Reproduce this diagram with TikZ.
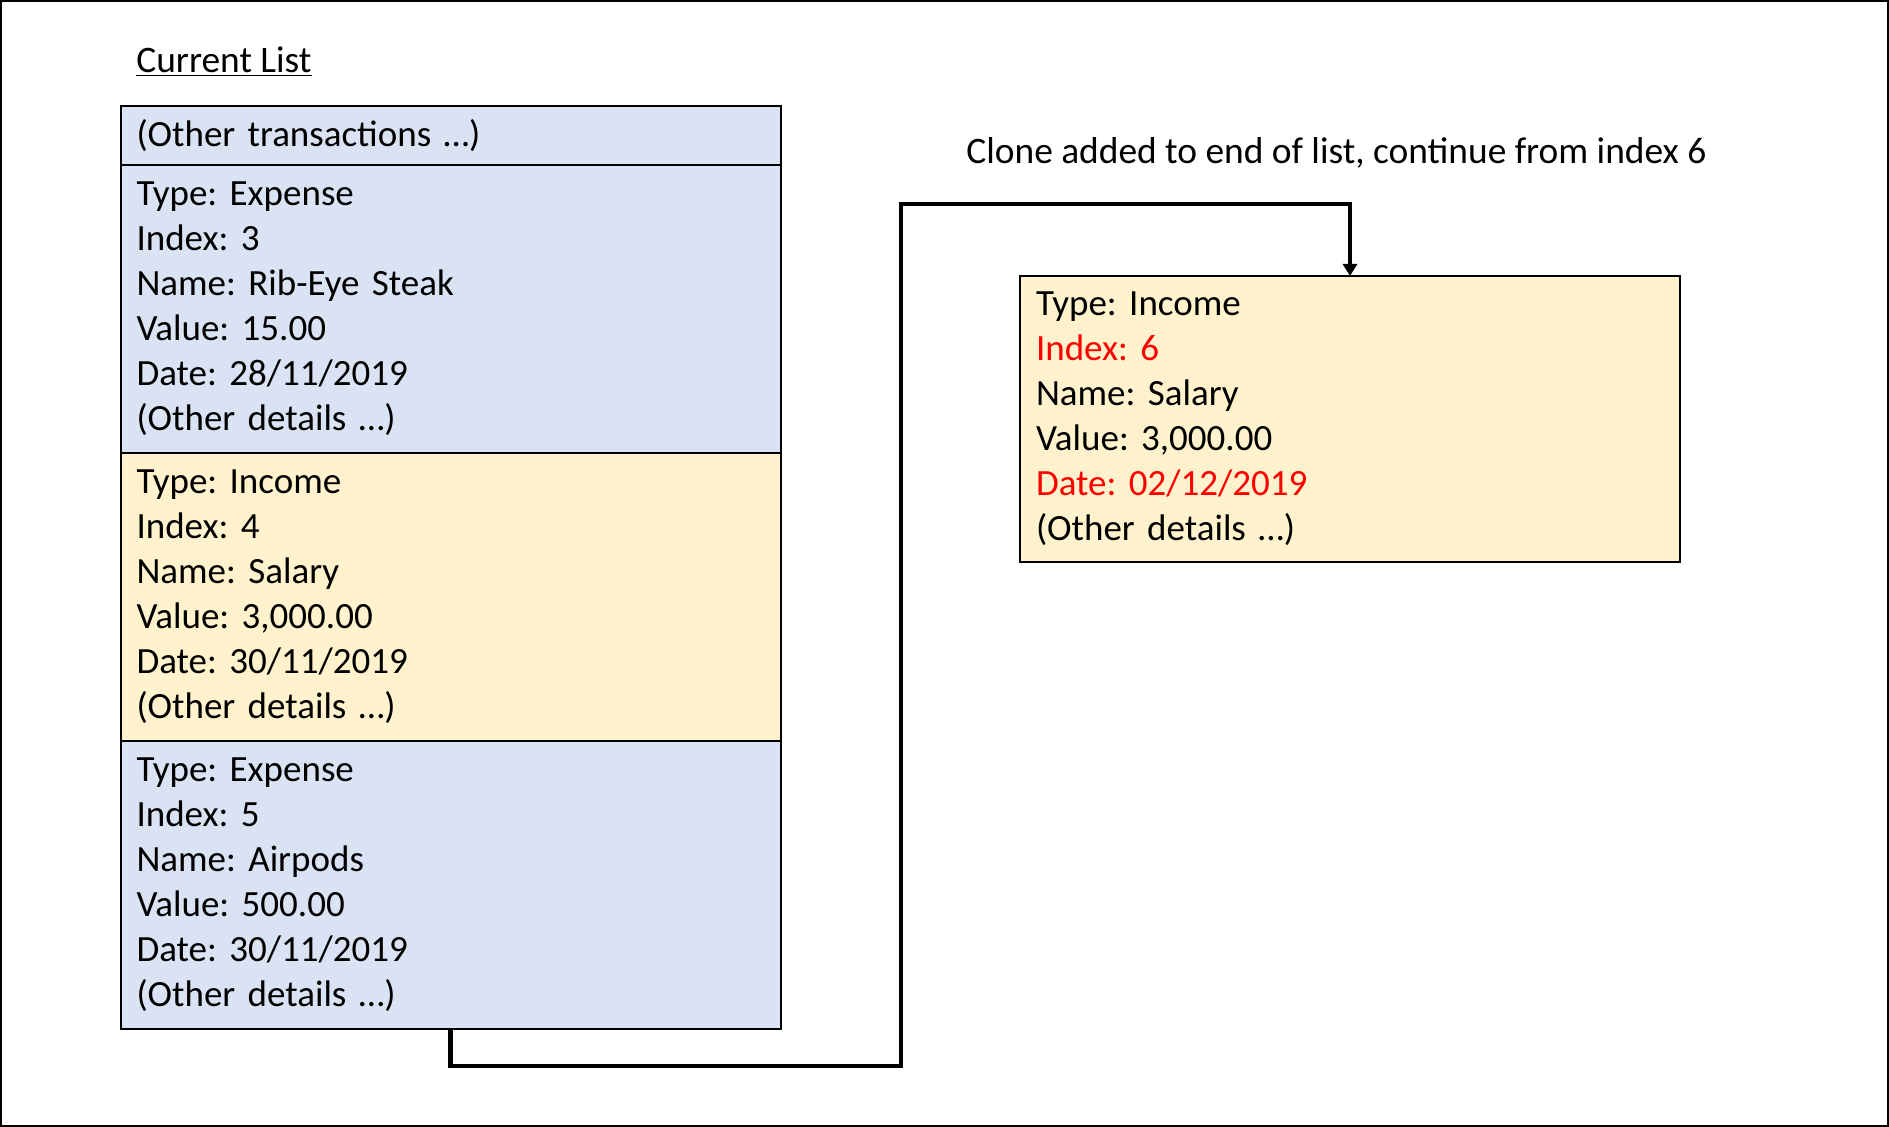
\documentclass[tikz,border=0pt]{standalone}
\usepackage{fontspec}
\setmainfont{Carlito}
\usepackage{tikz}
\usetikzlibrary{arrows.meta,positioning}
\usepackage{xcolor}
\frenchspacing
\definecolor{Blue}{HTML}{DAE3F3}
\definecolor{Cream}{HTML}{FFF2CC}
\definecolor{Alert}{HTML}{FF0000}
\tikzset{
 row/.style={draw=black, line width=1pt, outer sep=0pt, anchor=north west, text width=314pt, inner xsep=8pt, inner ysep=0pt, align=left, font=\fontsize{18.5}{22.5}\selectfont},
 bluerow/.style={row, fill=Blue},
 creamrow/.style={row, fill=Cream},
 caption/.style={anchor=west, inner sep=0pt, font=\fontsize{18.7}{22.5}\selectfont},
 conn/.style={-{Triangle[length=6pt,width=7pt]}, line width=2.2pt, draw=black}
}
\begin{document}
\begin{tikzpicture}[x=0.5pt,y=-0.5pt]
\useasboundingbox (0,0) rectangle (1889,1127);
\draw[line width=1pt] (1,1) rectangle (1888,1126);
\node[caption] (title) at (136,62) {\underline{Current List}};
\node[bluerow,minimum height=29.5pt] (other) at (120.5,106) {(Other transactions …)};
\node[bluerow,minimum height=144pt,below=0pt of other] (r3) {Type: Expense\\Index: 3\\Name: Rib-Eye Steak\\Value: 15.00\\Date: 28/11/2019\\(Other details …)};
\node[creamrow,minimum height=144pt,below=0pt of r3] (r4) {Type: Income\\Index: 4\\Name: Salary\\Value: 3,000.00\\Date: 30/11/2019\\(Other details …)};
\node[bluerow,minimum height=144pt,below=0pt of r4] (r5) {Type: Expense\\Index: 5\\Name: Airpods\\Value: 500.00\\Date: 30/11/2019\\(Other details …)};
\node[creamrow,minimum height=143pt] (clone) at (1020,276) {Type: Income\\{\color{Alert}Index: 6}\\Name: Salary\\Value: 3,000.00\\{\color{Alert}Date: 02/12/2019}\\(Other details …)};
\node[caption] (note) at (966,153) {Clone added to end of list, continue from index 6};
\coordinate (turn) at (901,1066);
\coordinate (up) at (901,204);
\draw[conn] (r5.south) |- (turn) -- (up) -| (clone.north);
\end{tikzpicture}
\end{document}
